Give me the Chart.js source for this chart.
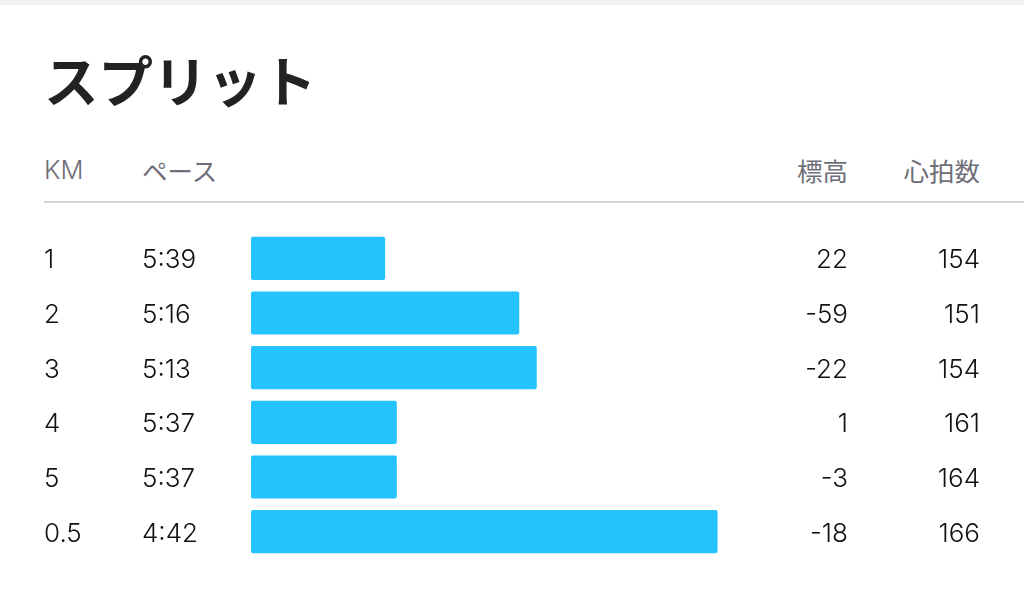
<!DOCTYPE html>
<html>
<head>
<meta charset="utf-8">
<script src="https://cdn.jsdelivr.net/npm/chart.js@4"></script>
<style>
  html,body{margin:0;padding:0;background:#fff;}
  body{width:1024px;height:609px;position:relative;overflow:hidden;font-family:"Noto Sans CJK JP","Noto Sans",sans-serif;}
  #topband{position:absolute;left:0;top:0;width:1024px;height:5px;background:#efeff4;}
  #title{position:absolute;left:44px;top:43px;font-size:54.5px;font-weight:700;color:#222;line-height:72px;}
  .head{position:absolute;top:152px;font-size:25.5px;color:#6e6e78;line-height:36px;}
  .latin{font-family:Inter,"Noto Sans CJK JP",sans-serif;font-weight:300;}
  #divider{position:absolute;left:44px;top:201px;width:980px;height:2px;background:#d4d4dc;}
  #wrap{position:absolute;left:0;top:0;width:1024px;height:609px;}
</style>
</head>
<body>
<div id="topband"></div>
<div id="title">スプリット</div>
<div class="head latin" style="left:44px">KM</div>
<div class="head" style="left:142px">ペース</div>
<div class="head" style="right:176px">標高</div>
<div class="head" style="right:44px">心拍数</div>
<div id="divider"></div>
<div id="wrap"><canvas id="chart" width="1024" height="609"></canvas></div>

<script>
// DATA
const km = ["1","2","3","4","5","0.5"];
const pace = ["5:39","5:16","5:13","5:37","5:37","4:42"];
const elevation = [22,-59,-22,1,-3,-18];
const heartRate = [154,151,154,161,164,166];

// pace in seconds per km, bar grows as pace gets faster
const paceSec = pace.map(p=>{
  let [m,s]=p.split(":");
  return Number(m)*60+Number(s);
});

// COLUMNS
const columns = {
  id:"columns",
  afterDraw(chart){
    let ctx=chart.ctx;
    let y=chart.scales.y;
    ctx.save();
    ctx.font='300 26px Inter, "Noto Sans CJK JP"';
    ctx.fillStyle="#111";
    ctx.textBaseline="alphabetic";
    km.forEach((k,i)=>{
      let py=y.getPixelForValue(i)+10;
      ctx.textAlign="left";
      ctx.fillText(k,44,py);
      ctx.fillText(pace[i],142,py);
      ctx.textAlign="right";
      ctx.fillText(String(elevation[i]),848,py);
      ctx.fillText(String(heartRate[i]),980,py);
    });
    ctx.restore();
  }
};

new Chart(document.getElementById("chart"),{
  type:"bar",
  data:{
    labels:km,
    datasets:[{
      data:paceSec,
      base:362,
      backgroundColor:"#24c3fe",
      borderRadius:2,
      borderSkipped:false,
      categoryPercentage:1,
      barPercentage:0.79
    }]
  },
  options:{
    indexAxis:"y",
    responsive:false,
    animation:false,
    devicePixelRatio:1,
    layout:{padding:{left:251,right:44,top:231,bottom:50}},
    plugins:{legend:{display:false},tooltip:{enabled:false}},
    scales:{
      x:{display:false,reverse:true,min:237,max:362},
      y:{display:false}
    }
  },
  plugins:[columns]
});
</script>
</body>
</html>
